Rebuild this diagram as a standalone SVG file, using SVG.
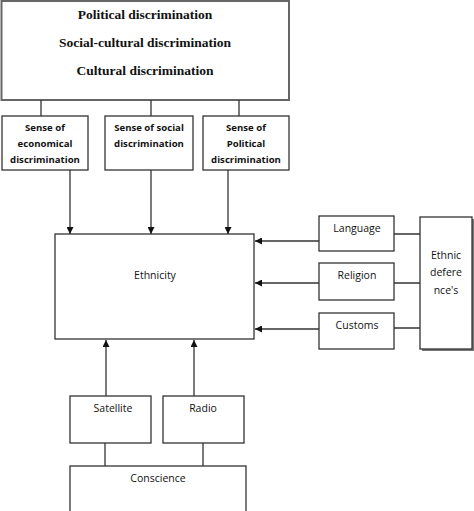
<svg xmlns="http://www.w3.org/2000/svg" width="474" height="511" viewBox="0 0 474 511">
<defs>
<style>
.b{fill:#fff;stroke:#333;stroke-width:1.3}
.l{fill:none;stroke:#333;stroke-width:1.3}
.t{font-family:"Liberation Serif",serif;font-weight:bold;font-size:13.5px;fill:#111;text-anchor:middle}
.s{font-family:"Open Sans","Liberation Sans",sans-serif;font-weight:bold;font-size:9.6px;fill:#111;text-anchor:middle}
.n{font-family:"Open Sans","Liberation Sans",sans-serif;font-size:10.5px;fill:#111;text-anchor:middle}
</style>
<marker id="a" viewBox="0 0 10 10" refX="10" refY="5" markerWidth="7" markerHeight="7" markerUnits="userSpaceOnUse" orient="auto"><path d="M0,0L10,5L0,10z" fill="#111"/></marker>
</defs>
<rect width="474" height="511" fill="#fff"/>
<g id="top">
<rect class="b" x="1.5" y="1" width="287.5" height="99" style="stroke:#666;stroke-width:2"/>
<text class="t" x="145" y="19">Political discrimination</text>
<text class="t" x="145" y="47">Social-cultural discrimination</text>
<text class="t" x="145" y="75">Cultural discrimination</text>
</g>
<g id="sense-econ">
<rect class="b" x="2" y="116" width="86" height="54"/>
<text class="s" x="45" y="131">Sense of</text>
<text class="s" x="45" y="147">economical</text>
<text class="s" x="45" y="163">discrimination</text>
</g>
<g id="sense-social">
<rect class="b" x="105" y="116" width="88" height="54"/>
<text class="s" x="149" y="131">Sense of social</text>
<text class="s" x="149" y="147">discrimination</text>
</g>
<g id="sense-pol">
<rect class="b" x="203" y="116" width="86" height="54"/>
<text class="s" x="246" y="131">Sense of</text>
<text class="s" x="246" y="147">Political</text>
<text class="s" x="246" y="163">discrimination</text>
</g>
<g id="ethnicity">
<rect class="b" x="55" y="234" width="199" height="105"/>
<text class="n" x="155" y="279">Ethnicity</text>
</g>
<g id="language">
<rect class="b" x="319" y="216" width="75" height="35"/>
<text class="n" x="357" y="232">Language</text>
</g>
<g id="religion">
<rect class="b" x="319" y="263" width="75" height="37"/>
<text class="n" x="357" y="279">Religion</text>
</g>
<g id="customs">
<rect class="b" x="319" y="313" width="75" height="36"/>
<text class="n" x="357" y="329">Customs</text>
</g>
<g id="ethnic-def">
<rect x="422" y="219" width="52" height="132" fill="#777"/>
<rect class="b" x="420" y="217" width="52" height="132"/>
<text class="n" x="446" y="259">Ethnic</text>
<text class="n" x="446" y="276">defere</text>
<text class="n" x="446" y="294">nce's</text>
</g>
<g id="satellite">
<rect class="b" x="70" y="396" width="81" height="47"/>
<text class="n" x="113" y="412">Satellite</text>
</g>
<g id="radio">
<rect class="b" x="163" y="396" width="81" height="47"/>
<text class="n" x="203" y="412">Radio</text>
</g>
<g id="conscience">
<rect class="b" x="70" y="466" width="176" height="50"/>
<text class="n" x="158" y="482">Conscience</text>
</g>
<g id="connectors">
<path class="l" d="M41,100V116M151,100V116M239,100V116"/>
<path class="l" d="M70,170V234" marker-end="url(#a)"/>
<path class="l" d="M151,170V234" marker-end="url(#a)"/>
<path class="l" d="M228,170V234" marker-end="url(#a)"/>
<path class="l" d="M319,241H255" marker-end="url(#a)"/>
<path class="l" d="M319,283H255" marker-end="url(#a)"/>
<path class="l" d="M319,329H255" marker-end="url(#a)"/>
<path class="l" d="M394,234H420M394,283H420M394,328H420"/>
<path class="l" d="M106,396V340" marker-end="url(#a)"/>
<path class="l" d="M194,396V340" marker-end="url(#a)"/>
<path class="l" d="M105,443V466M203,443V466"/>
</g>
</svg>
